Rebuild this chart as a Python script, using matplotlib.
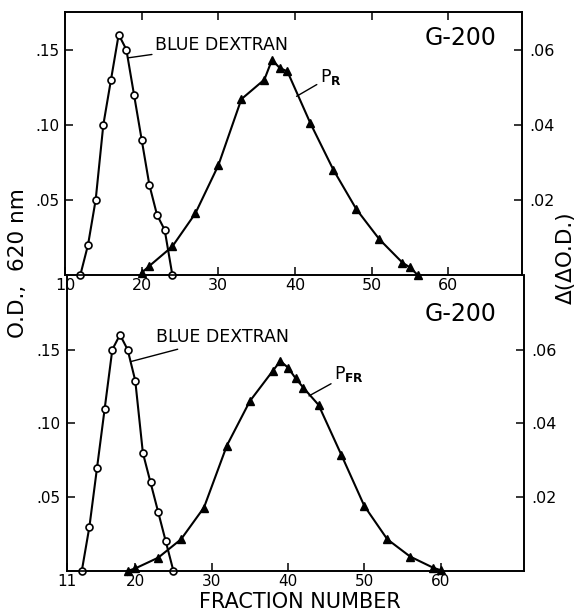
import matplotlib
matplotlib.use("Agg")
import matplotlib.pyplot as plt

# ---------------- data ----------------
# Top panel
bd_top_x = [12, 13, 14, 15, 16, 17, 18, 19, 20, 21, 22, 23, 24]
bd_top_y = [0.0, 0.020, 0.050, 0.100, 0.130, 0.160, 0.150, 0.120, 0.090, 0.060, 0.040, 0.030, 0.0]
pr_x = [20, 21, 24, 27, 30, 33, 36, 37, 38, 39, 42, 45, 48, 51, 54, 55, 56]
pr_y = [0.0006, 0.0024, 0.0076, 0.0164, 0.0292, 0.0468, 0.0520, 0.0573, 0.0551, 0.0542,
        0.0404, 0.0280, 0.0175, 0.0095, 0.0033, 0.0020, 0.0]

# Bottom panel
bd_bot_x = [13, 14, 15, 16, 17, 18, 19, 20, 21, 22, 23, 24, 25]
bd_bot_y = [0.0, 0.030, 0.070, 0.110, 0.150, 0.160, 0.150, 0.129, 0.080, 0.060, 0.040, 0.020, 0.0]
pfr_x = [19, 20, 23, 26, 29, 32, 35, 38, 39, 40, 41, 42, 44, 47, 50, 53, 56, 59, 60]
pfr_y = [0.0, 0.0007, 0.0036, 0.0086, 0.0172, 0.0340, 0.0460, 0.0542, 0.0569, 0.0551,
         0.0522, 0.0497, 0.0450, 0.0314, 0.0176, 0.0086, 0.0039, 0.0009, 0.0002]

left_ticks = [0.05, 0.10, 0.15]
left_labels = [".05", ".10", ".15"]
right_ticks = [0.02, 0.04, 0.06]
right_labels = [".02", ".04", ".06"]
top_xticks = [10, 20, 30, 40, 50, 60]
top_xlabels = ["10", "20", "30", "40", "50", "60"]
bot_xticks = [11, 20, 30, 40, 50, 60]
bot_xlabels = ["11", "20", "30", "40", "50", "60"]

plt.rcParams['font.family'] = ['DejaVu Sans']
W, H = 582, 614
fig = plt.figure(figsize=(W / 100, H / 100), dpi=100)


def box(l, t, r, b):
    return [l / W, 1 - b / H, (r - l) / W, (b - t) / H]


lw = 1.5
slw = 1.2


def style(ax, axr, xticks, xlabels, top_ticks):
    for a in (ax, axr):
        for s in a.spines.values():
            s.set_linewidth(slw)
    ax.set_yticks(left_ticks)
    ax.set_yticklabels(left_labels)
    axr.set_yticks(right_ticks)
    axr.set_yticklabels(right_labels)
    ax.set_xticks(xticks)
    ax.set_xticklabels(xlabels)
    ax.tick_params(axis='y', direction='in', length=6, width=1.1, labelsize=11, pad=4)
    axr.tick_params(axis='y', direction='in', length=6, width=1.1, labelsize=11.5, pad=5)
    ax.tick_params(axis='x', direction='in', length=6, width=1.1, labelsize=11.5, pad=2.5,
                   top=top_ticks)


# ---------------- bottom panel (drawn first, transparent) ----------------
ax2 = fig.add_axes(box(66.5, 275, 524, 571))
ax2r = ax2.twinx()
ax2.patch.set_visible(False)
ax2r.patch.set_visible(False)
ax2.set_xlim(11, 70.9)
ax2.set_ylim(0, 0.2005)
ax2r.set_ylim(0, 0.0802)
ax2.plot(bd_bot_x, bd_bot_y, '-o', color='black', lw=lw, ms=5, mfc='white', mec='black',
         mew=1.2, clip_on=False, zorder=3)
ax2r.plot(pfr_x, pfr_y, '-^', color='black', lw=lw, ms=5.5, mfc='black', mec='black',
          clip_on=False, zorder=3)
style(ax2, ax2r, bot_xticks, bot_xlabels, False)
ax2.tick_params(axis='x', labelsize=11)
for a in (ax2, ax2r):
    a.spines['top'].set_visible(False)

ax2.annotate('BLUE DEXTRAN', xy=(19.38, 0.1418), xytext=(22.7, 0.1582),
             fontsize=12.5, va='center', ha='left',
             arrowprops=dict(arrowstyle='-', lw=1.0, color='black', shrinkA=0, shrinkB=0))
ax2.annotate(r'P$_{\mathbf{FR}}$', xy=(42.75, 0.1186), xytext=(46.0, 0.1335),
             fontsize=12.5, va='center', ha='left',
             arrowprops=dict(arrowstyle='-', lw=1.0, color='black', shrinkA=0, shrinkB=0))
ax2.text(67.3, 0.174, 'G-200', fontsize=17, ha='right', va='center')

# ---------------- top panel ----------------
ax1 = fig.add_axes(box(65, 12, 522, 275))
ax1r = ax1.twinx()
ax1.patch.set_visible(False)
ax1r.patch.set_visible(False)
ax1.set_xlim(10, 69.6)
ax1.set_ylim(0, 0.175)
ax1r.set_ylim(0, 0.07)
ax1.plot(bd_top_x, bd_top_y, '-o', color='black', lw=lw, ms=5, mfc='white', mec='black',
         mew=1.2, clip_on=False, zorder=3)
ax1r.plot(pr_x, pr_y, '-^', color='black', lw=lw, ms=5.5, mfc='black', mec='black',
          clip_on=False, zorder=3)
style(ax1, ax1r, top_xticks, top_xlabels, True)

ax1.annotate('BLUE DEXTRAN', xy=(18.25, 0.1445), xytext=(21.7, 0.1533),
             fontsize=12.5, va='center', ha='left',
             arrowprops=dict(arrowstyle='-', lw=1.0, color='black', shrinkA=0, shrinkB=0))
ax1.annotate(r'P$_{\mathbf{R}}$', xy=(40.2, 0.1189), xytext=(43.2, 0.132),
             fontsize=12.5, va='center', ha='left',
             arrowprops=dict(arrowstyle='-', lw=1.0, color='black', shrinkA=0, shrinkB=0))
ax1.text(66.3, 0.158, 'G-200', fontsize=17, ha='right', va='center')

# ---------------- axis titles ----------------
fig.text(18 / W, 1 - 263 / H, 'O.D.,  620 nm', rotation=90, fontsize=15.5,
         ha='center', va='center')
fig.text(566 / W, 1 - 258 / H, 'Δ(ΔO.D.)', rotation=90, fontsize=15.5,
         ha='center', va='center')
fig.text(300 / W, 1 - 608 / H, 'FRACTION NUMBER', fontsize=15, ha='center', va='baseline')

fig.savefig('out.png', dpi=100)
